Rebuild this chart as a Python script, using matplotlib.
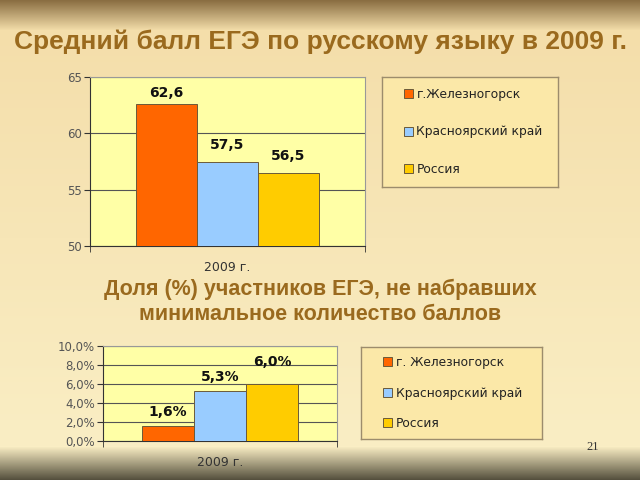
import numpy as np
import matplotlib
matplotlib.use("Agg")
from matplotlib import pyplot as plt
from matplotlib.ticker import FuncFormatter, FixedLocator

# Данные
series = ["г.Железногорск", "Красноярский край", "Россия"]
series2 = ["г. Железногорск", "Красноярский край", "Россия"]
category = "2009 г."
avg_score = [62.6, 57.5, 56.5]
fail_share = [1.6, 5.3, 6.0]

colors = ["#FF6600", "#99CCFF", "#FFCC00"]
title_color = "#9A6A1E"
plot_bg = "#FFFFA6"

W, H = 640, 480
fig = plt.figure(figsize=(W / 100, H / 100), dpi=100)

# Фон слайда (вертикальный градиент)
bg = np.zeros((H, 1, 3))
top = np.array([138, 110, 66]) / 255
mid = np.array([244, 222, 170]) / 255
low = np.array([250, 238, 196]) / 255
dark = np.array([80, 76, 58]) / 255
for i in range(H):
    if i < 30:
        t = i / 30
        c = top * (1 - t) + mid * t
    elif i < 446:
        t = (i - 30) / 416
        c = mid * (1 - t) + low * t
    else:
        t = (i - 446) / 34
        c = low * (1 - t) + dark * t
    bg[i, 0] = c
bga = fig.add_axes([0, 0, 1, 1])
bga.imshow(bg, aspect="auto", extent=(0, 1, 0, 1))
bga.axis("off")


def box(x0, y0, x1, y1):
    # пиксели (сверху вниз) -> координаты фигуры
    return [x0 / W, 1 - y1 / H, (x1 - x0) / W, (y1 - y0) / H]


def comma(v, fmt):
    return fmt.format(v).replace(".", ",")


def draw_chart(ax, values, labels, ylim, yticks, yfmt, lblfmt, pads):
    ax.set_facecolor(plot_bg)
    bw = 0.222
    conts = []
    for i, v in enumerate(values):
        c = ax.bar((i - 1) * bw, v, width=bw, color=colors[i],
                   edgecolor="#6A5A3A", linewidth=0.7, zorder=3,
                   label=labels[i])
        conts.append(c)
    for i, c in enumerate(conts):
        ax.bar_label(c, labels=[comma(values[i], lblfmt)], padding=pads[i],
                     fontsize=10, fontweight="bold", color="#111111",
                     family="DejaVu Sans")
    ax.set_xlim(-0.5, 0.5)
    ax.set_ylim(*ylim)
    ax.yaxis.set_major_locator(FixedLocator(yticks))
    ax.yaxis.set_major_formatter(FuncFormatter(lambda v, p: comma(v, yfmt)))
    ax.grid(axis="y", color="#555555", linewidth=0.8, zorder=1)
    ax.set_xticks([0])
    ax.set_xticklabels([category])
    ax.xaxis.set_minor_locator(FixedLocator([-0.5, 0.5]))
    ax.tick_params(axis="x", which="major", length=0, pad=11,
                   labelsize=9, labelcolor="#333333")
    ax.tick_params(axis="x", which="minor", length=4, color="#333333")
    ax.tick_params(axis="y", length=4, color="#333333", labelsize=8.5,
                   labelcolor="#555555", pad=2)
    for s in ["top", "right"]:
        ax.spines[s].set_color("#999999")
    ax.spines["left"].set_color("#333333")
    ax.spines["bottom"].set_color("#333333")
    return conts


def draw_legend(rect, conts, labels, spacing):
    lax = fig.add_axes(rect)
    lax.set_facecolor("#FBE8A8")
    lax.set_xticks([])
    lax.set_yticks([])
    for s in lax.spines.values():
        s.set_color("#9C8C6C")
        s.set_linewidth(1.0)
    lax.legend(conts, labels, loc="center left", bbox_to_anchor=(0.06, 0.5),
               frameon=False, handlelength=0.75,
               handleheight=0.75, handletextpad=0.3, labelspacing=spacing,
               labelcolor="#222222",
               prop={"family": "DejaVu Sans", "size": 8.8})


# Заголовок
fig.text(0.5, 1 - 42 / H, "Средний балл ЕГЭ по русскому языку в 2009 г.",
         ha="center", va="center", fontsize=19, fontweight="bold",
         color=title_color, family="Liberation Sans")

# График 1
ax1 = fig.add_axes(box(90, 77, 365, 246))
c1 = draw_chart(ax1, avg_score, series, (50, 65), [50, 55, 60, 65],
                "{:.0f}", "{:.1f}", [3, 7, 7])
draw_legend(box(382, 77, 558, 187), c1, series, 2.0)

# Подзаголовок
fig.text(0.5, 1 - 302 / H,
         "Доля (%) участников ЕГЭ, не набравших\nминимальное количество баллов",
         ha="center", va="center", fontsize=15.5, fontweight="bold",
         color=title_color, family="Liberation Sans", linespacing=1.25)

# График 2
ax2 = fig.add_axes(box(103, 346, 337, 441))
c2 = draw_chart(ax2, fail_share, series2, (0, 10), [0, 2, 4, 6, 8, 10],
                "{:.1f}%", "{:.1f}%", [5, 5, 11])
draw_legend(box(361, 347, 542, 439), c2, series2, 1.45)

# Номер слайда
fig.text(593 / W, 1 - 447 / H, "21", ha="center", va="center", fontsize=9,
         color="#333333", family="Liberation Serif")

fig.savefig("out.png", dpi=100)
